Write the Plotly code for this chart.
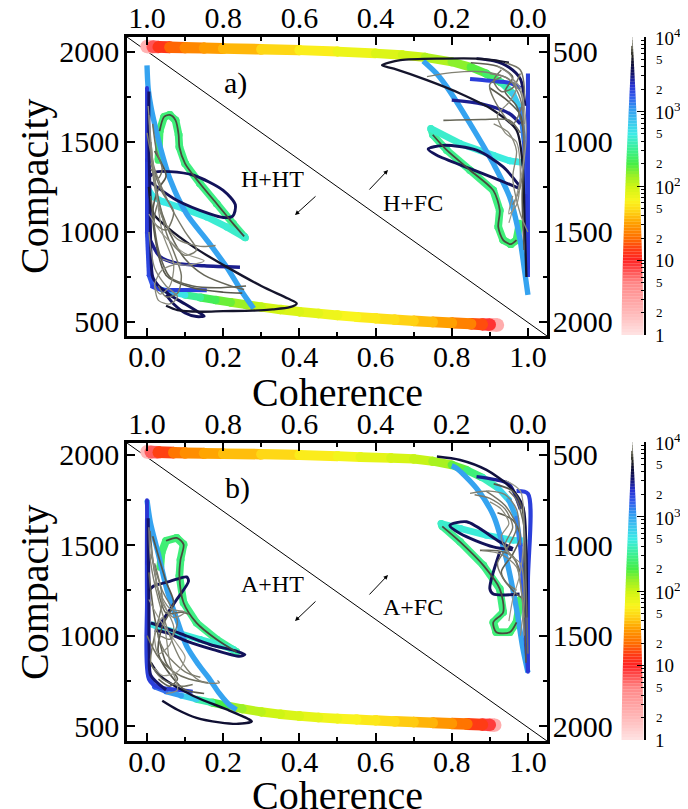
import math
import plotly.graph_objects as go

FONT = "Liberation Serif"
W, H = 688, 809
OFF = 8  # page body margin of the browser

# ---------------- data: (coherence, compacity, log10 time) ----------------
# Panel a, H+HT (bottom / left axes)
a_ht_band = [(0.92,483,0.0),(0.90,485,0.8),(0.88,487,1.1),(0.85,490,1.3),(0.80,495,1.45),(0.75,500,1.55),
             (0.70,506,1.62),(0.65,513,1.68),(0.60,520,1.73),(0.55,528,1.78),(0.50,537,1.83),(0.45,547,1.88),
             (0.40,557,1.92),(0.35,569,1.96),(0.30,583,2.0),(0.26,596,2.08),(0.22,609,2.18),(0.18,622,2.28),
             (0.14,636,2.4),(0.10,650,2.6),(0.07,664,2.85),(0.04,678,3.1),(0.015,700,3.2),(0.005,760,3.25),
             (0.0,1000,3.3),(0.0,1400,3.32),(0.0,1800,3.35)]
a_ht_loop = [(0.03,1400,2.4),(0.033,1560,2.41),(0.045,1640,2.42),(0.06,1650,2.42),(0.075,1620,2.43),
             (0.083,1540,2.43),(0.085,1472,2.44),(0.1,1380,2.44),(0.139,1269,2.45),(0.183,1157,2.46),
             (0.226,1046,2.47),(0.255,975,2.5),(0.258,968,2.62),(0.209,1028,2.64),(0.157,1083,2.66),
             (0.096,1130,2.68),(0.043,1167,2.7),(0.017,1194,2.71),(0.005,1230,2.72)]
a_ht_lightblue = [(0.0,1925),(0.003,1800),(0.01,1700),(0.02,1600),(0.035,1470),(0.061,1290),(0.104,1100),
                  (0.157,955),(0.209,805),(0.25,665),(0.28,575)]
a_ht_navy_loop = [(0.008,1310),(0.022,1333),(0.06,1335),(0.122,1315),(0.2,1231),(0.232,1150),(0.225,1088),
                  (0.2,1080),(0.165,1100),(0.078,1176),(0.026,1250),(0.01,1275)]
a_ht_black_hairpin = [(0.005,1250),(0.017,1102),(0.052,1028),(0.122,917),(0.209,806),(0.3,700),(0.37,630),
                      (0.393,603),(0.375,582),(0.33,570),(0.278,563),(0.2,560),(0.139,557),(0.08,566),(0.05,590)]
a_ht_navy_bar = [(0.01,950),(0.034,863),(0.08,825),(0.15,812),(0.244,804)]
a_ht_blue_bar = [(0.01,700),(0.035,680),(0.1,678),(0.157,676)]
a_ht_navy_small = [(0.03,700),(0.06,650),(0.1,600),(0.14,548),(0.15,533),(0.13,530),(0.1,550),(0.07,600),(0.05,650)]
a_ht_navy_edge = [(0.005,1780),(0.005,1500),(0.008,1200),(0.01,900),(0.015,750),(0.03,700)]
a_ht_green_core = [(0.033,1560),(0.045,1640),(0.06,1650),(0.075,1620),(0.083,1540),(0.085,1472),(0.1,1380),
                   (0.139,1269),(0.183,1157),(0.226,1046),(0.255,975)]
a_ht_grey1 = [(0.005,1650),(0.01,1450),(0.02,1250),(0.04,1080),(0.08,960),(0.14,920),(0.18,925)]
a_ht_grey2 = [(0.01,1500),(0.02,1300),(0.04,1100),(0.07,950),(0.1,850),(0.15,760),(0.22,700),(0.255,680)]
a_ht_grey3 = [(0.003,1700),(0.015,1400),(0.04,1000),(0.07,820),(0.06,700),(0.035,655),(0.02,700),(0.04,790),(0.09,830)]
a_ht_grey4 = [(0.01,1380),(0.04,1220),(0.07,1110),(0.05,1010),(0.02,1050),(0.03,1160),(0.05,1000),(0.09,760),
              (0.08,660),(0.05,640),(0.03,700)]
a_ht_grey5 = [(0.005,1100),(0.04,990),(0.1,880),(0.15,840),(0.1,815),(0.04,850)]
a_ht_grey6 = [(0.02,1450),(0.05,1310),(0.03,1240),(0.015,1100),(0.05,760),(0.12,690),(0.2,665),(0.25,660)]
a_ht_grey7 = [(0.0,1550),(0.02,1350),(0.06,1150),(0.1,1000),(0.13,900),(0.1,870),(0.06,950)]
a_ht_grey8 = [(0.01,1200),(0.03,900),(0.06,750),(0.12,700),(0.18,690),(0.26,700)]
a_ht_grey9 = [(0.005,1000),(0.02,800),(0.05,700),(0.08,640),(0.06,600),(0.03,620),(0.02,700)]
a_ht_grey10 = [(0.015,1600),(0.025,1450),(0.04,1350),(0.03,1300),(0.01,1350)]

# Panel a, H+FC (top / right axes)
a_fc_band = [(1.0,470,0.0),(0.985,471,0.7),(0.97,472,1.0),(0.94,474,1.2),(0.9,476,1.35),(0.85,478,1.45),
             (0.8,481,1.52),(0.7,485,1.62),(0.6,490,1.72),(0.5,498,1.82),(0.4,508,1.9),(0.33,517,1.97),
             (0.27,530,2.03),(0.2,555,2.12),(0.15,585,2.22),(0.11,620,2.32),(0.07,670,2.45),(0.04,730,2.7),
             (0.02,820,3.0),(0.01,1000,3.2),(0.005,1300,3.3),(0.0,1700,3.35)]
a_fc_loop = [(0.022,1454,2.4),(0.03,1546,2.4),(0.045,1568,2.41),(0.065,1545,2.42),(0.078,1472,2.43),
             (0.074,1380,2.44),(0.091,1269,2.45),(0.152,1157,2.46),(0.213,1046,2.48),(0.25,960,2.52),
             (0.255,926,2.62),(0.178,1009,2.65),(0.091,1074,2.67),(0.048,1105,2.69),(0.03,1110,2.7),(0.01,1115,2.72)]
a_fc_lightblue = [(0.275,550),(0.24,620),(0.213,694),(0.152,898),(0.091,1120),(0.048,1306),(0.022,1528),
                  (0.009,1713),(0.0,1850)]
a_fc_navy_loop = [(0.02,1250),(0.065,1139),(0.135,1046),(0.222,1019),(0.262,1040),(0.239,1074),(0.152,1148),
                  (0.074,1213),(0.022,1259)]
a_fc_black_hairpin = [(0.05,560),(0.091,546),(0.135,537),(0.222,537),(0.335,546),(0.383,574),(0.352,593),
                      (0.265,657),(0.178,731),(0.091,824),(0.03,935),(0.013,1157),(0.009,1435),(0.004,1750)]
a_fc_navy_bar = [(0.2,768),(0.12,790),(0.048,843),(0.02,900)]
a_fc_blue_bar = [(0.152,650),(0.1,660),(0.048,672),(0.02,700)]
a_fc_navy_top = [(0.135,537),(0.09,550),(0.05,585),(0.02,650),(0.008,800)]
a_fc_blue_edge = [(0.0,620),(0.0,1000),(0.0,1400),(0.0,1750)]
a_fc_green_core = [(0.03,1546),(0.045,1568),(0.065,1545),(0.078,1472),(0.074,1380),(0.091,1269),(0.152,1157),
                   (0.213,1046),(0.25,960)]
a_fc_grey1 = [(0.265,637),(0.2,615),(0.12,610),(0.06,640),(0.02,720),(0.01,900)]
a_fc_grey2 = [(0.222,880),(0.12,875),(0.048,880),(0.02,950)]
a_fc_grey3 = [(0.08,580),(0.05,620),(0.03,700),(0.05,780),(0.08,850),(0.06,950),(0.03,1000),(0.02,1200),
              (0.03,1350),(0.05,1400),(0.04,1300)]
a_fc_grey4 = [(0.06,560),(0.02,600),(0.01,750),(0.04,900),(0.09,760),(0.1,680),(0.07,640)]
a_fc_grey5 = [(0.05,1450),(0.03,1300),(0.01,1100),(0.005,900),(0.02,700),(0.04,650)]
a_fc_grey6 = [(0.1,700),(0.06,760),(0.02,850),(0.01,1050),(0.015,1300),(0.01,1600)]
a_fc_grey7 = [(0.1,620),(0.05,650),(0.02,760),(0.01,1000),(0.02,1250),(0.04,1350)]
a_fc_grey8 = [(0.15,560),(0.08,580),(0.04,640),(0.06,720),(0.03,800),(0.01,950)]
a_fc_grey9 = [(0.09,900),(0.05,950),(0.03,1050),(0.04,1200),(0.02,1400),(0.0,1500)]
a_fc_grey10 = [(0.07,600),(0.09,660),(0.07,720),(0.04,700),(0.02,620)]

# Panel b, A+HT (bottom / left axes)
b_ht_band = [(0.913,505,0.0),(0.90,506,0.8),(0.88,508,1.05),(0.84,511,1.25),(0.8,514,1.4),(0.75,518,1.52),
             (0.7,522,1.6),(0.65,526,1.66),(0.6,531,1.72),(0.55,536,1.77),(0.5,541,1.82),(0.45,547,1.87),
             (0.4,555,1.92),(0.35,565,1.97),(0.3,578,2.02),(0.25,595,2.08),(0.21,612,2.2),(0.17,630,2.4),
             (0.13,648,2.7),(0.09,668,2.95),(0.05,690,3.1),(0.02,715,3.2),(0.005,780,3.25),(0.0,1000,3.3),
             (0.0,1400,3.33),(0.0,1750,3.35)]
b_ht_loop = [(0.035,1380,2.4),(0.038,1460,2.41),(0.05,1525,2.42),(0.078,1541,2.42),(0.096,1505,2.43),
             (0.088,1420,2.43),(0.085,1330,2.44),(0.096,1182,2.45),(0.130,1071,2.46),(0.183,979,2.47),
             (0.235,910,2.5),(0.225,925,2.62),(0.18,955,2.64),(0.139,979,2.66),(0.078,1016,2.68),
             (0.035,1043,2.7),(0.015,1060,2.72)]
b_ht_lightblue = [(0.0,1750),(0.009,1625),(0.03,1450),(0.052,1256),(0.08,1080),(0.104,942),(0.135,840),
                  (0.165,757),(0.19,680),(0.217,615),(0.235,590)]
b_ht_navy_tri = [(0.005,1250),(0.017,1274),(0.06,1300),(0.104,1325),(0.109,1301),(0.078,1200),(0.043,1090),(0.03,1050)]
b_ht_navy_loop = [(0.01,1070),(0.035,1053),(0.104,998),(0.165,951),(0.235,914),(0.257,896),(0.243,886),
                  (0.174,923),(0.104,970),(0.052,1016),(0.02,1030)]
b_ht_black_hairpin = [(0.01,850),(0.035,777),(0.122,666),(0.209,592),(0.265,540),(0.275,525),(0.24,512),
                      (0.19,520),(0.13,545),(0.08,590),(0.04,640)]
b_ht_blue_corner = [(0.0,1650),(0.0,1200),(0.005,760),(0.03,715),(0.08,700),(0.12,690)]
b_ht_navy_edge = [(0.003,1650),(0.005,1200),(0.006,900),(0.01,780),(0.05,700)]
b_ht_green_core = [(0.05,1525),(0.078,1541),(0.096,1505),(0.088,1420),(0.085,1330),(0.096,1182),(0.130,1071),
                   (0.183,979),(0.235,910)]
b_ht_grey1 = [(0.005,1600),(0.01,1400),(0.03,1200),(0.06,1000),(0.09,860),(0.12,780),(0.15,740),(0.19,740),(0.185,752)]
b_ht_grey2 = [(0.008,1580),(0.02,1350),(0.05,1125),(0.09,1130),(0.11,1120)]
b_ht_grey3 = [(0.01,1500),(0.03,1250),(0.05,1150),(0.07,1050),(0.06,950),(0.03,900),(0.02,1000),(0.04,1100),
              (0.06,850),(0.08,700),(0.05,680)]
b_ht_grey4 = [(0.02,1400),(0.04,1200),(0.02,1000),(0.01,850),(0.04,760),(0.09,720),(0.12,730)]
b_ht_grey5 = [(0.005,1200),(0.03,1100),(0.08,950),(0.1,880),(0.08,800),(0.04,780),(0.02,820)]
b_ht_grey6 = [(0.015,1550),(0.05,1300),(0.07,1180),(0.04,1050),(0.03,900),(0.07,760),(0.1,700),(0.15,680)]
b_ht_grey7 = [(0.01,1450),(0.04,1250),(0.08,1080),(0.06,980),(0.03,1000),(0.05,900),(0.1,800),(0.14,770)]
b_ht_grey8 = [(0.005,1350),(0.02,1100),(0.05,850),(0.08,760),(0.06,720),(0.03,760)]
b_ht_grey9 = [(0.02,1300),(0.06,1150),(0.1,1130),(0.07,1100),(0.04,1180)]
b_ht_grey10 = [(0.0,1000),(0.03,880),(0.07,800),(0.11,760),(0.16,740)]

# Panel b, A+FC (top / right axes)
b_fc_band = [(1.0,483,0.0),(0.99,484,0.6),(0.97,485,1.05),(0.93,487,1.28),(0.9,489,1.38),(0.85,491,1.48),
             (0.8,493,1.55),(0.7,496,1.63),(0.6,500,1.72),(0.5,507,1.8),(0.44,512,1.86),(0.36,517,1.93),
             (0.3,522,1.99),(0.25,535,2.05),(0.2,555,2.15),(0.16,585,2.35),(0.12,625,2.5),(0.08,680,2.7),
             (0.05,750,2.9),(0.03,850,3.05),(0.02,1000,3.15),(0.01,1300,3.25),(0.005,1550,3.3),(0.0,1700,3.35)]
b_fc_loop = [(0.02,1300,2.4),(0.03,1426,2.41),(0.048,1481,2.42),(0.083,1481,2.42),(0.091,1426,2.43),
             (0.065,1370,2.44),(0.074,1241,2.45),(0.117,1111,2.46),(0.178,981,2.47),(0.225,895,2.5),
             (0.228,880,2.62),(0.178,907,2.65),(0.109,944,2.68),(0.039,972,2.7),(0.01,975,2.72)]
b_fc_lightblue = [(0.2,560),(0.187,574),(0.135,685),(0.091,833),(0.057,1074),(0.030,1352),(0.013,1574),(0.0,1704)]
b_fc_navy_loop = [(0.039,1018),(0.074,981),(0.161,870),(0.205,890),(0.178,935),(0.091,1009),(0.04,1025)]
b_fc_navy_zig = [(0.074,1037),(0.1,1241),(0.091,1270),(0.022,1270)]
b_fc_navy_top = [(0.239,509),(0.178,528),(0.109,583),(0.048,676),(0.013,787),(0.005,1000),(0.003,1400)]
b_fc_blue_edge = [(0.03,700),(0.0,715),(0.0,1200),(0.0,1700)]
b_fc_navy_block = [(0.135,620),(0.09,635),(0.05,660),(0.02,800)]
b_fc_green_core = [(0.03,1426),(0.048,1481),(0.083,1481),(0.091,1426),(0.065,1370),(0.074,1241),(0.117,1111),
                   (0.178,981),(0.225,895)]
b_fc_grey1 = [(0.152,713),(0.1,700),(0.06,720),(0.03,800),(0.02,1000)]
b_fc_grey2 = [(0.126,1028),(0.08,1030),(0.04,1060),(0.02,1150)]
b_fc_grey3 = [(0.1,760),(0.07,800),(0.05,880),(0.07,950),(0.05,1050),(0.02,1100),(0.01,1300),(0.02,1500)]
b_fc_grey4 = [(0.11,700),(0.06,780),(0.03,900),(0.05,1000),(0.08,1100),(0.06,1200),(0.03,1250)]
b_fc_grey5 = [(0.06,640),(0.02,700),(0.01,900),(0.02,1150),(0.04,1300),(0.05,1420)]
b_fc_grey6 = [(0.09,660),(0.04,700),(0.015,800),(0.01,1100),(0.008,1450),(0.005,1650)]
b_fc_grey7 = [(0.14,720),(0.1,740),(0.06,800),(0.04,900),(0.06,1000),(0.03,1100),(0.01,1400)]
b_fc_grey8 = [(0.08,820),(0.04,860),(0.02,950),(0.04,1050),(0.07,1150),(0.04,1250),(0.01,1300)]
b_fc_grey9 = [(0.12,1030),(0.07,1050),(0.03,1120),(0.015,1300),(0.01,1500)]
b_fc_grey10 = [(0.05,700),(0.03,750),(0.01,900),(0.005,1200),(0.0,1600)]

# log10(time) of the single-coloured trajectories
A_HT_CONST = [(a_ht_lightblue,3.0),(a_ht_navy_loop,3.55),(a_ht_black_hairpin,3.68),(a_ht_navy_bar,3.45),
              (a_ht_blue_bar,3.3),(a_ht_navy_small,3.55),(a_ht_navy_edge,3.52),(a_ht_green_core,3.8),
              (a_ht_grey1,3.88),(a_ht_grey2,3.84),(a_ht_grey3,3.9),(a_ht_grey4,3.86),(a_ht_grey5,3.92),
              (a_ht_grey6,3.82),(a_ht_grey7,3.87),(a_ht_grey8,3.83),(a_ht_grey9,3.89),(a_ht_grey10,3.85)]
A_FC_CONST = [(a_fc_lightblue,3.0),(a_fc_navy_loop,3.55),(a_fc_black_hairpin,3.68),(a_fc_navy_bar,3.45),
              (a_fc_blue_bar,3.3),(a_fc_navy_top,3.55),(a_fc_blue_edge,3.3),(a_fc_green_core,3.8),
              (a_fc_grey1,3.88),(a_fc_grey2,3.84),(a_fc_grey3,3.9),(a_fc_grey4,3.86),(a_fc_grey5,3.92),
              (a_fc_grey6,3.82),(a_fc_grey7,3.87),(a_fc_grey8,3.83),(a_fc_grey9,3.89),(a_fc_grey10,3.85)]
B_HT_CONST = [(b_ht_lightblue,3.0),(b_ht_navy_tri,3.55),(b_ht_navy_loop,3.55),(b_ht_black_hairpin,3.65),
              (b_ht_blue_corner,3.3),(b_ht_navy_edge,3.5),(b_ht_green_core,3.8),(b_ht_grey1,3.88),
              (b_ht_grey2,3.84),(b_ht_grey3,3.9),(b_ht_grey4,3.86),(b_ht_grey5,3.92),(b_ht_grey6,3.82),
              (b_ht_grey7,3.87),(b_ht_grey8,3.83),(b_ht_grey9,3.89),(b_ht_grey10,3.85)]
B_FC_CONST = [(b_fc_lightblue,3.0),(b_fc_navy_loop,3.55),(b_fc_navy_zig,3.55),(b_fc_navy_top,3.62),
              (b_fc_blue_edge,3.3),(b_fc_navy_block,3.45),(b_fc_green_core,3.8),(b_fc_grey1,3.88),
              (b_fc_grey2,3.84),(b_fc_grey3,3.9),(b_fc_grey4,3.86),(b_fc_grey5,3.92),(b_fc_grey6,3.82),
              (b_fc_grey7,3.87),(b_fc_grey8,3.83),(b_fc_grey9,3.89),(b_fc_grey10,3.85)]

COHERENCE_TICKS = [0.0, 0.2, 0.4, 0.6, 0.8, 1.0]
COMPACITY_TICKS = [500, 1000, 1500, 2000]
CBAR_MAJOR = [1, 10, 100, 1000, 10000]
CBAR_MAJOR_TEXT = ["1", "10", "10<sup>2</sup>", "10<sup>3</sup>", "10<sup>4</sup>"]
CBAR_MINOR_LABELS = [2, 5, 20, 50, 200, 500, 2000, 5000]

# ---------------- colour / width scale ----------------
STOPS = [(0.0,(255,228,228)),(0.3,(255,185,185)),(0.7,(255,135,135)),(1.0,(255,35,35)),(1.15,(255,60,20)),
         (1.3,(255,110,0)),(1.5,(255,160,0)),(1.65,(255,210,20)),(1.8,(250,245,30)),(2.0,(205,245,20)),
         (2.15,(150,240,40)),(2.3,(70,238,70)),(2.5,(60,240,150)),(2.7,(60,235,230)),(2.9,(60,190,240)),
         (3.05,(50,150,240)),(3.2,(50,90,235)),(3.35,(40,50,210)),(3.5,(20,20,110)),(3.65,(15,15,50)),
         (3.75,(35,35,30)),(3.85,(110,110,95)),(3.95,(170,170,160)),(4.0,(235,235,235))]


def cmap(L):
    L = max(0.0, min(4.0, L))
    for (l0, c0), (l1, c1) in zip(STOPS[:-1], STOPS[1:]):
        if l0 <= L <= l1:
            f = (L - l0) / (l1 - l0)
            c = [round(a + (b - a) * f) for a, b in zip(c0, c1)]
            return "rgb(%d,%d,%d)" % tuple(c)
    return "rgb(235,235,235)"


def lw(L):
    return 13 * (1 - (max(0.0, L) / 4) ** 1.5) + 0.8


fig = go.Figure()


def add_group(grad_list, const_list, xa, ya):
    pieces = []
    for pts in grad_list:
        for p, q in zip(pts[:-1], pts[1:]):
            pieces.append(((p[2] + q[2]) / 2, [p[0], q[0]], [p[1], q[1]], "seg"))
    for pts, L in const_list:
        pieces.append((L, [p[0] for p in pts], [p[1] for p in pts], "spline"))
    pieces.sort(key=lambda t: t[0])
    for L, xs, ys, kind in pieces:
        c, w = cmap(L), lw(L)
        if kind == "seg":
            fig.add_trace(go.Scatter(x=xs, y=ys, mode="lines+markers", xaxis=xa, yaxis=ya,
                                     line=dict(color=c, width=w), marker=dict(color=c, size=w),
                                     hoverinfo="skip", showlegend=False))
        else:
            fig.add_trace(go.Scatter(x=xs, y=ys, mode="lines", xaxis=xa, yaxis=ya,
                                     line=dict(color=c, width=w, shape="spline", smoothing=0.8),
                                     hoverinfo="skip", showlegend=False))


add_group([a_ht_band, a_ht_loop], A_HT_CONST, "x", "y")
add_group([a_fc_band, a_fc_loop], A_FC_CONST, "x2", "y2")
add_group([b_ht_band, b_ht_loop], B_HT_CONST, "x3", "y3")
add_group([b_fc_band, b_fc_loop], B_FC_CONST, "x4", "y4")

# ---------------- wedge colour bars ----------------
NB = 100
Lc = [4.0 * (i + 0.5) / NB for i in range(NB)]
wedge = [22 * (1 - (L / 4) ** 1.5) for L in Lc]
for xa, ya in (("x5", "y5"), ("x6", "y6")):
    fig.add_trace(go.Bar(y=Lc, x=wedge, base=[-v / 2 for v in wedge], orientation="h", width=4.0 / NB * 1.05,
                         marker=dict(color=[cmap(L) for L in Lc], line=dict(width=0)),
                         xaxis=xa, yaxis=ya, hoverinfo="skip", showlegend=False))

# ---------------- layout ----------------
FW, FH = W - OFF, H - OFF


def px_x(p):
    return (p - OFF) / FW


def px_y(p):
    return 1 - (p - OFF) / FH


tickfont = dict(family=FONT, size=30, color="black")
titlefont = dict(family=FONT, size=40, color="black")
common = dict(showgrid=False, zeroline=False, showline=True, linewidth=2.5, linecolor="black",
              ticks="inside", ticklen=8, tickwidth=1.5, tickcolor="black", tickfont=tickfont,
              automargin=False)

panels = [  # (frame top px, frame bottom px, ymin, ymax)
    (37, 336, 422, 2083),
    (443, 741, 417, 2066),
]
xr = [-0.0525, 1.05]
xdom = [px_x(127), px_x(547)]

lay = dict(width=FW, height=FH, margin=dict(l=0, r=0, t=0, b=0, pad=0), autosize=False,
           paper_bgcolor="white", plot_bgcolor="white", font=dict(family=FONT, color="black"))

for i, (top, bot, ymin, ymax) in enumerate(panels):
    ydom = [px_y(bot), px_y(top)]
    n = 1 + 2 * i
    xb = "xaxis%d" % n if n > 1 else "xaxis"
    yl = "yaxis%d" % n if n > 1 else "yaxis"
    xt, yr = "xaxis%d" % (n + 1), "yaxis%d" % (n + 1)
    xname, yname = ("x%d" % n if n > 1 else "x"), ("y%d" % n if n > 1 else "y")
    lay[xb] = dict(common, domain=xdom, range=xr, anchor=yname, side="bottom", ticklabelstandoff=-8,
                   tickvals=COHERENCE_TICKS, tickformat=".1f",
                   minor=dict(dtick=0.1, tick0=0, ticks="inside", ticklen=4, tickcolor="black"))
    lay[yl] = dict(common, domain=ydom, range=[ymin, ymax], anchor=xname, side="left", ticklabelstandoff=-1,
                   tickvals=COMPACITY_TICKS,
                   minor=dict(dtick=250, tick0=0, ticks="inside", ticklen=4, tickcolor="black"))
    lay[xt] = dict(common, domain=xdom, range=[1 - xr[0], 1 - xr[1]], anchor="y%d" % (n + 1), side="top",
                   overlaying=xname, tickvals=COHERENCE_TICKS, tickformat=".1f", ticklabelstandoff=-6,
                   minor=dict(dtick=0.1, tick0=0, ticks="inside", ticklen=4, tickcolor="black"))
    lay[yr] = dict(common, domain=ydom, range=[2500 - ymin, 2500 - ymax], anchor="x%d" % (n + 1), side="right",
                   overlaying=yname, tickvals=COMPACITY_TICKS, ticklabelstandoff=-3,
                   minor=dict(dtick=250, tick0=0, ticks="inside", ticklen=4, tickcolor="black"))

# colour-bar axes
cb_panels = [(37, 335), (442, 740)]
minor_vals = [math.log10(m * 10 ** d) for d in range(4) for m in range(2, 10)]
for j, (top, bot) in enumerate(cb_panels):
    k = 5 + j
    lay["xaxis%d" % k] = dict(domain=[px_x(621), px_x(644)], range=[-11.5, 11.5], anchor="y%d" % k,
                              visible=False, fixedrange=True, automargin=False)
    lay["yaxis%d" % k] = dict(domain=[px_y(bot), px_y(top)], range=[0, 4], anchor="x%d" % k, side="right",
                              showgrid=False, zeroline=False, showline=True, linewidth=1.5, linecolor="black",
                              ticks="inside", ticklen=7, tickwidth=1.2, tickcolor="black", automargin=False,
                              tickvals=[math.log10(v) for v in CBAR_MAJOR], showticklabels=False,
                              minor=dict(tickmode="array", tickvals=minor_vals, ticks="inside", ticklen=3.5,
                                         tickcolor="black", tickwidth=1))

annotations = []
for j in range(2):
    k = 5 + j
    for v, t in zip(CBAR_MAJOR, CBAR_MAJOR_TEXT):
        annotations.append(dict(x=px_x(653), xref="paper", y=math.log10(v), yref="y%d" % k, text=t,
                                showarrow=False, xanchor="left", yanchor="middle",
                                font=dict(family=FONT, size=19, color="black")))
    for v in CBAR_MINOR_LABELS:
        annotations.append(dict(x=px_x(654), xref="paper", y=math.log10(v), yref="y%d" % k,
                                text=str(v)[0], showarrow=False, xanchor="left", yanchor="middle",
                                font=dict(family=FONT, size=13, color="black")))

# axis titles
for cy_title, cy_axis in ((392, 186), (795, 592)):
    annotations.append(dict(x=px_x(337), y=px_y(cy_title), xref="paper", yref="paper", text="Coherence",
                            showarrow=False, xanchor="center", yanchor="middle", font=titlefont))
    annotations.append(dict(x=px_x(34), y=px_y(cy_axis), xref="paper", yref="paper", text="Compacity",
                            showarrow=False, xanchor="center", yanchor="middle", textangle=-90, font=titlefont))

# panel labels and region labels
labels = [("a)", 235, 83, 30), ("H+HT", 272, 179, 24), ("H+FC", 413, 203, 24),
          ("b)", 237, 488, 30), ("A+HT", 272, 584, 24), ("A+FC", 413, 607, 24)]
for t, x, y, s in labels:
    annotations.append(dict(x=px_x(x), y=px_y(y), xref="paper", yref="paper", text=t, showarrow=False,
                            xanchor="center", yanchor="middle", font=dict(family=FONT, size=s, color="black")))
arrows = [(295, 215, 22, -20), (388, 170, -20, 21), (295, 621, 22, -21), (388, 575, -20, 21)]
for x, y, ax, ay in arrows:
    annotations.append(dict(x=px_x(x), y=px_y(y), xref="paper", yref="paper", text="", showarrow=True,
                            ax=ax, ay=ay, arrowhead=2, arrowsize=0.9, arrowwidth=1, arrowcolor="black"))
lay["annotations"] = annotations

shapes = []
for ya in ("y", "y3"):
    xa = "x" if ya == "y" else "x3"
    shapes.append(dict(type="line", xref=xa + " domain", yref=ya + " domain", x0=0, y0=1, x1=1, y1=0,
                       line=dict(color="black", width=1), layer="below"))
lay["shapes"] = shapes

fig.update_layout(**lay)
fig.write_html("out.html")
